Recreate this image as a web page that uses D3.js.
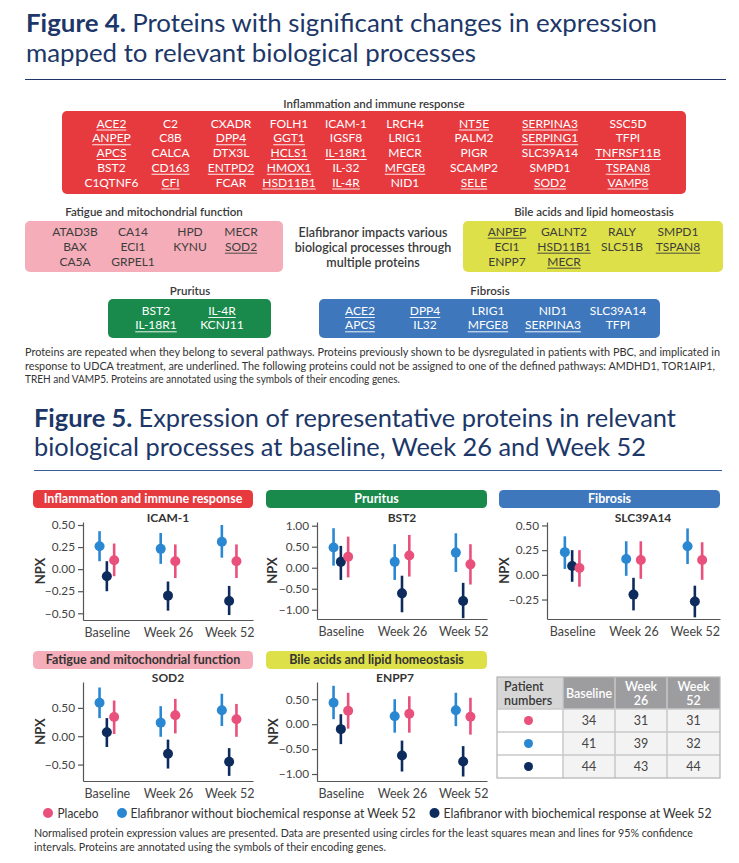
<!DOCTYPE html>
<html>
<head>
<meta charset="utf-8">
<script src="https://cdn.jsdelivr.net/npm/d3@7"></script>
<style>
  body { margin: 0; background: #fff; }
  text { font-family: Lato, "Open Sans", sans-serif; }
</style>
</head>
<body>
<svg id="fig" width="739" height="863"></svg>
<script>
// ---- Figure 4 data: protein columns per pathway ----
const inflammation = [
  ["ACE2", "ANPEP", "APCS", "BST2", "C1QTNF6"],
  ["C2", "C8B", "CALCA", "CD163", "CFI"],
  ["CXADR", "DPP4", "DTX3L", "ENTPD2", "FCAR"],
  ["FOLH1", "GGT1", "HCLS1", "HMOX1", "HSD11B1"],
  ["ICAM-1", "IGSF8", "IL-18R1", "IL-32", "IL-4R"],
  ["LRCH4", "LRIG1", "MECR", "MFGE8", "NID1"],
  ["NT5E", "PALM2", "PIGR", "SCAMP2", "SELE"],
  ["SERPINA3", "SERPING1", "SLC39A14", "SMPD1", "SOD2"],
  ["SSC5D", "TFPI", "TNFRSF11B", "TSPAN8", "VAMP8"]
];
const fatigue = [["ATAD3B", "BAX", "CA5A"], ["CA14", "ECI1", "GRPEL1"], ["HPD", "KYNU"], ["MECR", "SOD2"]];
const bileAcids = [["ANPEP", "ECI1", "ENPP7"], ["GALNT2", "HSD11B1", "MECR"], ["RALY", "SLC51B"], ["SMPD1", "TSPAN8"]];
const pruritus = [["BST2", "IL-18R1"], ["IL-4R", "KCNJ11"]];
const fibrosis = [["ACE2", "APCS"], ["DPP4", "IL32"], ["LRIG1", "MFGE8"], ["NID1", "SERPINA3"], ["SLC39A14", "TFPI"]];
const underlined = ["ACE2", "ANPEP", "APCS", "CD163", "CFI", "DPP4", "ENTPD2", "GGT1", "HCLS1", "HMOX1",
  "HSD11B1", "IL-18R1", "IL-4R", "MFGE8", "NT5E", "SELE", "SERPINA3", "SERPING1", "SOD2",
  "TNFRSF11B", "TSPAN8", "VAMP8"];
const underlinedBile = ["MECR"];

// ---- Figure 5 data: [week, series, LS mean, lower 95% CI, upper 95% CI] ----
const weeks = ["Baseline", "Week 26", "Week 52"];
const seriesKeys = ["pbo", "nr", "r"];
const seriesNames = ["Placebo", "Elafibranor without biochemical response at Week 52", "Elafibranor with biochemical response at Week 52"];
const seriesColors = ["#e9507b", "#2a87d2", "#0d2c5d"];

const icam1 = [
  ["Baseline", "nr", 0.26, 0.09, 0.43], ["Baseline", "r", -0.08, -0.25, 0.09], ["Baseline", "pbo", 0.10, -0.08, 0.29],
  ["Week 26", "nr", 0.23, 0.06, 0.41], ["Week 26", "r", -0.30, -0.47, -0.14], ["Week 26", "pbo", 0.09, -0.10, 0.28],
  ["Week 52", "nr", 0.31, 0.13, 0.50], ["Week 52", "r", -0.36, -0.52, -0.19], ["Week 52", "pbo", 0.09, -0.10, 0.28]
];
const bst2 = [
  ["Baseline", "nr", 0.48, 0.05, 0.94], ["Baseline", "r", 0.14, -0.29, 0.52], ["Baseline", "pbo", 0.26, -0.23, 0.74],
  ["Week 26", "nr", 0.14, -0.29, 0.56], ["Week 26", "r", -0.61, -1.06, -0.19], ["Week 26", "pbo", 0.29, -0.21, 0.78],
  ["Week 52", "nr", 0.36, -0.10, 0.82], ["Week 52", "r", -0.79, -1.20, -0.36], ["Week 52", "pbo", 0.08, -0.40, 0.56]
];
const slc39a14 = [
  ["Baseline", "nr", 0.23, 0.06, 0.39], ["Baseline", "r", 0.09, -0.07, 0.25], ["Baseline", "pbo", 0.07, -0.12, 0.25],
  ["Week 26", "nr", 0.16, -0.01, 0.34], ["Week 26", "r", -0.20, -0.36, -0.03], ["Week 26", "pbo", 0.15, -0.04, 0.34],
  ["Week 52", "nr", 0.29, 0.11, 0.47], ["Week 52", "r", -0.27, -0.43, -0.11], ["Week 52", "pbo", 0.15, -0.05, 0.33]
];
const sod2 = [
  ["Baseline", "nr", 0.59, 0.32, 0.86], ["Baseline", "r", 0.07, -0.19, 0.32], ["Baseline", "pbo", 0.34, 0.04, 0.63],
  ["Week 26", "nr", 0.24, -0.01, 0.53], ["Week 26", "r", -0.31, -0.57, -0.06], ["Week 26", "pbo", 0.37, 0.05, 0.66],
  ["Week 52", "nr", 0.46, 0.18, 0.75], ["Week 52", "r", -0.45, -0.70, -0.21], ["Week 52", "pbo", 0.30, -0.01, 0.57]
];
const enpp7 = [
  ["Baseline", "nr", 0.43, 0.10, 0.77], ["Baseline", "r", -0.10, -0.40, 0.20], ["Baseline", "pbo", 0.27, -0.09, 0.63],
  ["Week 26", "nr", 0.16, -0.17, 0.50], ["Week 26", "r", -0.63, -0.95, -0.33], ["Week 26", "pbo", 0.21, -0.17, 0.56],
  ["Week 52", "nr", 0.28, -0.04, 0.63], ["Week 52", "r", -0.75, -1.05, -0.44], ["Week 52", "pbo", 0.15, -0.21, 0.53]
];
const patientNumbers = [[34, 31, 31], [41, 39, 32], [44, 43, 44]];
const tableHeads = ["Baseline", "Week|26", "Week|52"];

const navy = "#1c3768", dark = "#333";
const svg = d3.select("#fig");

function fit(t, w) {
  const len = t.node().getComputedTextLength();
  if (Math.abs(len - w) > 1) t.attr("textLength", w).attr("lengthAdjust", "spacingAndGlyphs");
  return t;
}

// ---- titles ----
function title(x, y, bold, rest, w) {
  const t = svg.append("text").attr("x", x).attr("y", y)
      .attr("font-size", 25).attr("fill", navy);
  if (bold) t.append("tspan").attr("font-weight", 700).text(bold + " ");
  t.append("tspan").text(rest);
  fit(t, w);
}
title(26, 32, "Figure 4.", "Proteins with significant changes in expression", 631);
title(26, 62, null, "mapped to relevant biological processes", 450);
svg.append("line").attr("x1", 25).attr("x2", 726).attr("y1", 79.5).attr("y2", 79.5)
    .attr("stroke", navy).attr("stroke-width", 1.2);

// ---- Figure 4 boxes ----
function box(cfg) {
  svg.append("text").attr("x", cfg.labelX).attr("y", cfg.labelY)
      .attr("text-anchor", "middle").attr("font-size", 11.5).attr("font-weight", 600)
      .attr("fill", "#3a3a3a").text(cfg.label);
  svg.append("rect").attr("x", cfg.x).attr("y", cfg.y).attr("width", cfg.w).attr("height", cfg.h)
      .attr("rx", 5).attr("fill", cfg.fill);
  const g = svg.append("g");
  const marked = underlined.concat(cfg.extra || []);
  cfg.cols.forEach(function (col, i) {
    col.forEach(function (name, j) {
      const t = g.append("text").attr("x", cfg.cx[i]).attr("y", cfg.row0 + j * cfg.step)
          .attr("text-anchor", "middle").attr("font-size", 12).attr("fill", cfg.ink).text(name);
      if (marked.includes(name)) {
        const w = t.node().getComputedTextLength();
        g.append("line").attr("x1", cfg.cx[i] - w / 2).attr("x2", cfg.cx[i] + w / 2)
            .attr("y1", cfg.row0 + j * cfg.step + 2.5).attr("y2", cfg.row0 + j * cfg.step + 2.5)
            .attr("stroke", cfg.ink).attr("stroke-width", 0.9);
      }
    });
  });
}
box({label: "Inflammation and immune response", labelX: 374, labelY: 107.5, x: 62, y: 111, w: 624, h: 83,
  fill: "#e63a3f", ink: "#fff", cols: inflammation, cx: [111.5, 170.5, 231, 289, 346, 405, 474, 550, 628],
  row0: 127.5, step: 14.75});
box({label: "Fatigue and mitochondrial function", labelX: 154, labelY: 215.5, x: 25, y: 221, w: 258, h: 51,
  fill: "#f5aeb9", ink: "#3d3d3d", cols: fatigue, cx: [75, 133, 190, 241], row0: 235.7, step: 15});
box({label: "Bile acids and lipid homeostasis", labelX: 594, labelY: 215.5, x: 463, y: 221, w: 260, h: 51,
  fill: "#dde048", ink: "#3d3d3d", cols: bileAcids, cx: [507, 564, 622, 678], row0: 235.7, step: 15,
  extra: underlinedBile});
box({label: "Pruritus", labelX: 190, labelY: 295, x: 108, y: 299, w: 163, h: 39,
  fill: "#198a4b", ink: "#fff", cols: pruritus, cx: [156, 222], row0: 315, step: 14.3});
box({label: "Fibrosis", labelX: 490, labelY: 295, x: 319, y: 299, w: 341, h: 39,
  fill: "#3e77bc", ink: "#fff", cols: fibrosis, cx: [360, 425, 488, 553, 618], row0: 315, step: 14.3});

["Elafibranor impacts various", "biological processes through", "multiple proteins"].forEach(function (s, i) {
  svg.append("text").attr("x", 373).attr("y", 237 + i * 14.8).attr("text-anchor", "middle")
      .attr("font-size", 12.5).attr("font-weight", 600).attr("fill", "#3a3a3a").text(s);
});

// ---- footnotes ----
function note(x, y, s, w) {
  fit(svg.append("text").attr("x", x).attr("y", y).attr("font-size", 10.5).attr("fill", dark).text(s), w);
}
note(25, 356, "Proteins are repeated when they belong to several pathways. Proteins previously shown to be dysregulated in patients with PBC, and implicated in", 695);
note(25, 369.5, "response to UDCA treatment, are underlined. The following proteins could not be assigned to one of the defined pathways: AMDHD1, TOR1AIP1,", 690);
note(25, 383, "TREH and VAMP5. Proteins are annotated using the symbols of their encoding genes.", 375);

// ---- Figure 5 title ----
title(34, 427, "Figure 5.", "Expression of representative proteins in relevant", 642);
title(34, 456, null, "biological processes at baseline, Week 26 and Week 52", 612);
svg.append("line").attr("x1", 34).attr("x2", 722).attr("y1", 470.5).attr("y2", 470.5)
    .attr("stroke", "#3b5d95").attr("stroke-width", 1.2);

// ---- Figure 5 panels ----
const dodge = {nr: -7.3, r: 0, pbo: 7.3};
const colorOf = d3.scaleOrdinal().domain(seriesKeys).range(seriesColors);
const panels = [
  {head: "Inflammation and immune response", fill: "#e63a3f", ink: "#fff", protein: "ICAM-1", data: icam1,
    ticks: [-0.5, -0.25, 0, 0.25, 0.5], domain: [-0.576, 0.534], x0: 83, x1: 253, pad: 0.39, yTop: 522, yBot: 620,
    pill: [33, 490, 220], subX: 168, npxX: 40},
  {head: "Pruritus", fill: "#198a4b", ink: "#fff", protein: "BST2", data: bst2,
    ticks: [-1, -0.5, 0, 0.5, 1], domain: [-1.22, 1.088], x0: 317, x1: 487, pad: 0.39, yTop: 522, yBot: 619,
    pill: [266, 490, 221], subX: 402, npxX: 272},
  {head: "Fibrosis", fill: "#3e77bc", ink: "#fff", protein: "SLC39A14", data: slc39a14,
    ticks: [-0.25, 0, 0.25, 0.5], domain: [-0.447, 0.535], x0: 547, x1: 720, pad: 0.41, yTop: 522, yBot: 619,
    pill: [499, 490, 221], subX: 643, npxX: 504},
  {head: "Fatigue and mitochondrial function", fill: "#f5aeb9", ink: "#333", protein: "SOD2", data: sod2,
    ticks: [-0.5, 0, 0.5], domain: [-0.79, 0.957], x0: 83, x1: 253, pad: 0.39, yTop: 682, yBot: 781,
    pill: [33, 651, 220], subX: 168, npxX: 40},
  {head: "Bile acids and lipid homeostasis", fill: "#dde048", ink: "#333", protein: "ENPP7", data: enpp7,
    ticks: [-1, -0.5, 0, 0.5], domain: [-1.14, 0.846], x0: 317, x1: 487, pad: 0.39, yTop: 682, yBot: 781,
    pill: [266, 651, 221], subX: 395, npxX: 273}
];

panels.forEach(function (p) {
  const g = svg.append("g");
  g.append("rect").attr("x", p.pill[0]).attr("y", p.pill[1]).attr("width", p.pill[2]).attr("height", 18)
      .attr("rx", 4.5).attr("fill", p.fill);
  g.append("text").attr("x", p.pill[0] + p.pill[2] / 2).attr("y", p.pill[1] + 13.3)
      .attr("text-anchor", "middle").attr("font-size", 12.5).attr("font-weight", 700)
      .attr("fill", p.ink).text(p.head);
  g.append("text").attr("x", p.subX).attr("y", p.yTop - 0.5).attr("text-anchor", "middle")
      .attr("font-size", 12).attr("font-weight", 700).attr("fill", dark).text(p.protein);

  const x = d3.scalePoint().domain(weeks).range([p.x0, p.x1]).padding(p.pad);
  const y = d3.scaleLinear().domain(p.domain).range([p.yBot, p.yTop]);

  const ya = g.append("g").attr("transform", "translate(" + p.x0 + ",0)")
      .call(d3.axisLeft(y).tickValues(p.ticks).tickFormat(d3.format(".2f")).tickSize(5).tickSizeOuter(0).tickPadding(3));
  const xa = g.append("g").attr("transform", "translate(0," + p.yBot + ")")
      .call(d3.axisBottom(x).tickSize(0).tickSizeOuter(0).tickPadding(8));
  [ya, xa].forEach(function (a) {
    a.attr("font-family", null).attr("font-size", null);
    a.selectAll("path, line").attr("stroke", "#555").attr("stroke-width", 1.2);
    a.selectAll("text").attr("fill", "#444").attr("font-size", 12.5);
  });
  ya.selectAll("text").attr("font-size", 11.8);

  g.append("text").attr("transform", "translate(" + p.npxX + "," + (p.yTop + p.yBot) / 2 + ") rotate(-90)")
      .attr("dy", "0.35em").attr("text-anchor", "middle").attr("font-size", 13).attr("font-weight", 700)
      .attr("fill", dark).text("NPX");

  const marks = g.append("g").selectAll("g").data(p.data).join("g");
  marks.append("line")
      .attr("x1", function (d) { return x(d[0]) + dodge[d[1]]; })
      .attr("x2", function (d) { return x(d[0]) + dodge[d[1]]; })
      .attr("y1", function (d) { return y(d[3]); })
      .attr("y2", function (d) { return y(d[4]); })
      .attr("stroke", function (d) { return colorOf(d[1]); })
      .attr("stroke-width", 2.6);
  marks.append("circle")
      .attr("cx", function (d) { return x(d[0]) + dodge[d[1]]; })
      .attr("cy", function (d) { return y(d[2]); })
      .attr("r", 5)
      .attr("fill", function (d) { return colorOf(d[1]); });
});

// ---- patient number table ----
const colX = [497, 563, 615, 667, 720];
const rowY = [677, 709, 732, 755, 778];
const tg = svg.append("g");
tg.append("rect").attr("x", colX[0]).attr("y", rowY[0]).attr("width", colX[4] - colX[0])
    .attr("height", rowY[4] - rowY[0]).attr("fill", "#fff");
tg.append("rect").attr("x", colX[0]).attr("y", rowY[0]).attr("width", colX[1] - colX[0])
    .attr("height", rowY[1] - rowY[0]).attr("fill", "#d6d6d6");
tableHeads.forEach(function (h, i) {
  tg.append("rect").attr("x", colX[i + 1]).attr("y", rowY[0]).attr("width", colX[i + 2] - colX[i + 1])
      .attr("height", rowY[1] - rowY[0]).attr("fill", "#9d9da0");
  const parts = h.split("|");
  parts.forEach(function (s, k) {
    const t = tg.append("text").attr("x", (colX[i + 1] + colX[i + 2]) / 2)
        .attr("y", parts.length === 1 ? 697.5 : 690.5 + k * 14.5)
        .attr("text-anchor", "middle").attr("font-size", 12.5).attr("font-weight", 600)
        .attr("fill", "#fff").text(s);
    if (t.node().getComputedTextLength() > 48) fit(t, 48);
  });
});
["Patient", "numbers"].forEach(function (s, k) {
  tg.append("text").attr("x", 504).attr("y", 690.5 + k * 14.5).attr("font-size", 12.5)
      .attr("font-weight", 600).attr("fill", "#3a3a3a").text(s);
});
patientNumbers.forEach(function (row, r) {
  const y0 = rowY[r + 1], y1 = rowY[r + 2];
  row.forEach(function (v, c) {
    tg.append("rect").attr("x", colX[c + 1]).attr("y", y0).attr("width", colX[c + 2] - colX[c + 1])
        .attr("height", y1 - y0).attr("fill", "#f3f3f3");
    tg.append("text").attr("x", (colX[c + 1] + colX[c + 2]) / 2).attr("y", (y0 + y1) / 2 + 4.5)
        .attr("text-anchor", "middle").attr("font-size", 12.5).attr("fill", "#444").text(v);
  });
  tg.append("circle").attr("cx", 528.5).attr("cy", (y0 + y1) / 2).attr("r", 4.5).attr("fill", seriesColors[r]);
});
// grid lines
colX.slice(1, 4).forEach(function (cx) {
  tg.append("line").attr("x1", cx).attr("x2", cx).attr("y1", rowY[0]).attr("y2", rowY[4])
      .attr("stroke", "#c9c9c9").attr("stroke-width", 1.5);
});
rowY.slice(1, 4).forEach(function (ry) {
  tg.append("line").attr("x1", colX[0]).attr("x2", colX[4]).attr("y1", ry).attr("y2", ry)
      .attr("stroke", "#c9c9c9").attr("stroke-width", 1.5);
});
tg.append("rect").attr("x", colX[0]).attr("y", rowY[0]).attr("width", colX[4] - colX[0])
    .attr("height", rowY[4] - rowY[0]).attr("fill", "none").attr("stroke", "#b3b3b3").attr("stroke-width", 1.2);

// ---- legend ----
const legendX = [[48, 57.5, 41], [122, 130.5, 285], [434.5, 443.5, 268]];
seriesNames.forEach(function (s, i) {
  svg.append("circle").attr("cx", legendX[i][0]).attr("cy", 813).attr("r", 5).attr("fill", seriesColors[i]);
  fit(svg.append("text").attr("x", legendX[i][1]).attr("y", 817.5).attr("font-size", 12.5)
      .attr("fill", dark).text(s), legendX[i][2]);
});

note(34, 837, "Normalised protein expression values are presented. Data are presented using circles for the least squares mean and lines for 95% confidence", 659);
note(34, 850.5, "intervals. Proteins are annotated using the symbols of their encoding genes.", 352);
</script>
</body>
</html>
